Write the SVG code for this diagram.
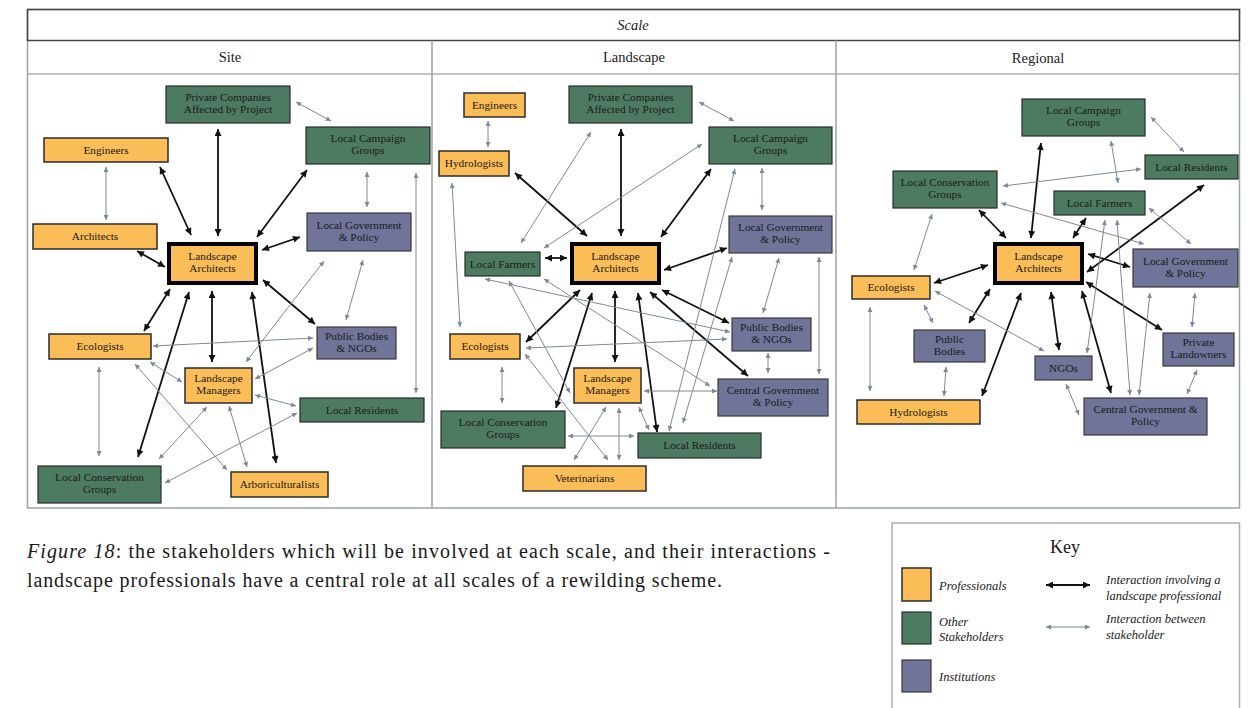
<svg xmlns="http://www.w3.org/2000/svg" width="1259" height="708" viewBox="0 0 1259 708">
<style>
text{font-family:"Liberation Serif","DejaVu Serif",serif;fill:#1a1a1a}
.n{font-size:11.3px;text-anchor:middle}
.h{font-size:14.5px;text-anchor:middle}
.pro{fill:#FBBD57;stroke:#2b2b2b;stroke-width:1.5}
.oth{fill:#4D7B62;stroke:#2b2b2b;stroke-width:1.2}
.ins{fill:#6F7498;stroke:#3a3a3a;stroke-width:1.2}
.la{fill:#FBBD57;stroke:#000;stroke-width:4}
.b{stroke:#111;stroke-width:1.8;fill:none;marker-start:url(#mb);marker-end:url(#mb)}
.g{stroke:#7D8898;stroke-width:1;fill:none;marker-start:url(#mg);marker-end:url(#mg)}
.k{font-size:12.5px;font-style:italic}
</style>
<defs>
<marker id="mb" viewBox="0 0 10 10" refX="10" refY="5" markerWidth="8" markerHeight="7" markerUnits="userSpaceOnUse" orient="auto-start-reverse"><path d="M0,0 L10,5 L0,10 z" fill="#111"/></marker>
<marker id="mg" viewBox="0 0 10 10" refX="10" refY="5" markerWidth="7" markerHeight="5" markerUnits="userSpaceOnUse" orient="auto-start-reverse"><path d="M0,0 L10,5 L0,10 z" fill="#7D8898"/></marker>
</defs>
<rect width="1259" height="708" fill="#fff"/>
<g id="table">
<rect x="27.5" y="9.5" width="1212" height="498.5" fill="none" stroke="#9AA2AC" stroke-width="1.5"/>
<rect x="27.5" y="9.5" width="1212" height="31" fill="none" stroke="#444" stroke-width="1.5"/>
<line x1="27.5" y1="74" x2="1239.5" y2="74" stroke="#A8AFB8" stroke-width="1.5"/>
<line x1="432" y1="40.5" x2="432" y2="508" stroke="#9AA2AC" stroke-width="1.5"/>
<line x1="836" y1="40.5" x2="836" y2="508" stroke="#9AA2AC" stroke-width="1.5"/>
<text x="633" y="30" class="h" font-style="italic" font-size="15.5">Scale</text>
<text x="230" y="62" class="h">Site</text>
<text x="634" y="62" class="h">Landscape</text>
<text x="1038" y="63" class="h">Regional</text>
</g>
<g id="connectors">
<!-- Site black -->
<line class="b" x1="218" y1="129" x2="218" y2="236"/>
<line class="b" x1="160" y1="167" x2="191" y2="235"/>
<line class="b" x1="307" y1="170" x2="257" y2="237"/>
<line class="b" x1="137" y1="251" x2="165" y2="267"/>
<line class="b" x1="300" y1="237" x2="262" y2="250"/>
<line class="b" x1="263" y1="280" x2="315" y2="324"/>
<line class="b" x1="170" y1="289" x2="144" y2="331"/>
<line class="b" x1="189" y1="292" x2="138" y2="457"/>
<line class="b" x1="212" y1="291" x2="212" y2="362"/>
<line class="b" x1="252" y1="292" x2="276" y2="463"/>
<!-- Site grey -->
<line class="g" x1="296" y1="102" x2="331" y2="121"/>
<line class="g" x1="106" y1="167" x2="106" y2="220"/>
<line class="g" x1="367" y1="172" x2="367" y2="207"/>
<line class="g" x1="416" y1="173" x2="416" y2="393"/>
<line class="g" x1="324" y1="261" x2="246" y2="362"/>
<line class="g" x1="363" y1="260" x2="346" y2="320"/>
<line class="g" x1="313" y1="338" x2="153" y2="346"/>
<line class="g" x1="313" y1="348" x2="255" y2="379"/>
<line class="g" x1="150" y1="362" x2="182" y2="382"/>
<line class="g" x1="135" y1="364" x2="227" y2="470"/>
<line class="g" x1="99" y1="367" x2="99" y2="456"/>
<line class="g" x1="255" y1="395" x2="296" y2="406"/>
<line class="g" x1="207" y1="407" x2="159" y2="459"/>
<line class="g" x1="229" y1="406" x2="247" y2="467"/>
<line class="g" x1="297" y1="413" x2="165" y2="483"/>
<!-- Landscape black -->
<line class="b" x1="621" y1="129" x2="621" y2="236"/>
<line class="b" x1="515" y1="173" x2="587" y2="236"/>
<line class="b" x1="711" y1="169" x2="661" y2="237"/>
<line class="b" x1="545" y1="258" x2="567" y2="258"/>
<line class="b" x1="727" y1="248" x2="664" y2="270"/>
<line class="b" x1="662" y1="290" x2="729" y2="323"/>
<line class="b" x1="650" y1="292" x2="748" y2="376"/>
<line class="b" x1="580" y1="290" x2="526" y2="342"/>
<line class="b" x1="592" y1="293" x2="556" y2="408"/>
<line class="b" x1="615" y1="291" x2="615" y2="362"/>
<line class="b" x1="638" y1="293" x2="657" y2="432"/>
<!-- Landscape grey -->
<line class="g" x1="699" y1="102" x2="734" y2="121"/>
<line class="g" x1="488" y1="121" x2="488" y2="147"/>
<line class="g" x1="591" y1="132" x2="521" y2="243"/>
<line class="g" x1="702" y1="144" x2="544" y2="248"/>
<line class="g" x1="762" y1="168" x2="762" y2="210"/>
<line class="g" x1="452" y1="183" x2="460" y2="327"/>
<line class="g" x1="779" y1="258" x2="763" y2="313"/>
<line class="g" x1="735" y1="169" x2="669" y2="431"/>
<line class="g" x1="732" y1="257" x2="683" y2="423"/>
<line class="g" x1="819" y1="257" x2="819" y2="374"/>
<line class="g" x1="768" y1="353" x2="768" y2="373"/>
<line class="g" x1="485" y1="279" x2="730" y2="332"/>
<line class="g" x1="509" y1="281" x2="570" y2="393"/>
<line class="g" x1="544" y1="279" x2="710" y2="386"/>
<line class="g" x1="526" y1="348" x2="727" y2="339"/>
<line class="g" x1="525" y1="354" x2="608" y2="460"/>
<line class="g" x1="502" y1="367" x2="502" y2="403"/>
<line class="g" x1="644" y1="391" x2="717" y2="391"/>
<line class="g" x1="606" y1="407" x2="574" y2="460"/>
<line class="g" x1="619" y1="408" x2="619" y2="460"/>
<line class="g" x1="639" y1="407" x2="649" y2="430"/>
<line class="g" x1="568" y1="436" x2="634" y2="436"/>
<!-- Regional black -->
<line class="b" x1="1041" y1="143" x2="1031" y2="238"/>
<line class="b" x1="979" y1="210" x2="1006" y2="238"/>
<line class="b" x1="1086" y1="218" x2="1073" y2="238"/>
<line class="b" x1="1204" y1="185" x2="1087" y2="272"/>
<line class="b" x1="1130" y1="267" x2="1088" y2="254"/>
<line class="b" x1="934" y1="283" x2="988" y2="265"/>
<line class="b" x1="1086" y1="282" x2="1162" y2="330"/>
<line class="b" x1="990" y1="289" x2="969" y2="323"/>
<line class="b" x1="1021" y1="293" x2="982" y2="396"/>
<line class="b" x1="1051" y1="292" x2="1059" y2="350"/>
<line class="b" x1="1082" y1="291" x2="1111" y2="393"/>
<!-- Regional grey -->
<line class="g" x1="1151" y1="117" x2="1184" y2="152"/>
<line class="g" x1="1111" y1="141" x2="1118" y2="183"/>
<line class="g" x1="1141" y1="169" x2="1003" y2="186"/>
<line class="g" x1="1001" y1="203" x2="1144" y2="244"/>
<line class="g" x1="1149" y1="208" x2="1191" y2="244"/>
<line class="g" x1="932" y1="214" x2="914" y2="270"/>
<line class="g" x1="1105" y1="220" x2="1087" y2="353"/>
<line class="g" x1="1117" y1="220" x2="1130" y2="395"/>
<line class="g" x1="1150" y1="293" x2="1139" y2="395"/>
<line class="g" x1="1195" y1="293" x2="1192" y2="327"/>
<line class="g" x1="1197" y1="370" x2="1187" y2="394"/>
<line class="g" x1="924" y1="305" x2="933" y2="323"/>
<line class="g" x1="935" y1="291" x2="1044" y2="351"/>
<line class="g" x1="870" y1="307" x2="870" y2="391"/>
<line class="g" x1="946" y1="367" x2="944" y2="396"/>
<line class="g" x1="1066" y1="384" x2="1079" y2="415"/>
</g>
<!-- Site nodes -->
<g id="s-private"><rect class="oth" x="166" y="86" width="124" height="37"/><text class="n" x="228" y="101">Private Companies</text><text class="n" x="228" y="113">Affected by Project</text></g>
<g id="s-engineers"><rect class="pro" x="44" y="138" width="124" height="24"/><text class="n" x="106" y="153.5">Engineers</text></g>
<g id="s-campaign"><rect class="oth" x="306" y="127" width="124" height="37"/><text class="n" x="368" y="142">Local Campaign</text><text class="n" x="368" y="154">Groups</text></g>
<g id="s-architects"><rect class="pro" x="33" y="224" width="124" height="25"/><text class="n" x="95" y="240">Architects</text></g>
<g id="s-la"><rect class="la" x="169" y="244" width="87" height="39"/><text class="n" x="212.5" y="260">Landscape</text><text class="n" x="212.5" y="272">Architects</text></g>
<g id="s-lgp"><rect class="ins" x="307" y="213" width="104" height="38"/><text class="n" x="359" y="228.5">Local Government</text><text class="n" x="359" y="240.5">&amp; Policy</text></g>
<g id="s-ecologists"><rect class="pro" x="49" y="334" width="102" height="25"/><text class="n" x="100" y="350">Ecologists</text></g>
<g id="s-public"><rect class="ins" x="317" y="327" width="79" height="32"/><text class="n" x="356.5" y="339.5">Public Bodies</text><text class="n" x="356.5" y="351.5">&amp; NGOs</text></g>
<g id="s-managers"><rect class="pro" x="185" y="368" width="67" height="35"/><text class="n" x="218.5" y="382">Landscape</text><text class="n" x="218.5" y="394">Managers</text></g>
<g id="s-residents"><rect class="oth" x="300" y="398" width="124" height="24"/><text class="n" x="362" y="413.5">Local Residents</text></g>
<g id="s-conservation"><rect class="oth" x="38" y="466" width="123" height="37"/><text class="n" x="99.5" y="481">Local Conservation</text><text class="n" x="99.5" y="493">Groups</text></g>
<g id="s-arbor"><rect class="pro" x="231" y="472" width="97" height="25"/><text class="n" x="279.5" y="488">Arboriculturalists</text></g>
<!-- Landscape nodes -->
<g id="l-engineers"><rect class="pro" x="464" y="93" width="61" height="24"/><text class="n" x="494.5" y="108.5">Engineers</text></g>
<g id="l-private"><rect class="oth" x="569" y="86" width="123" height="37"/><text class="n" x="630.5" y="101">Private Companies</text><text class="n" x="630.5" y="113">Affected by Project</text></g>
<g id="l-hydro"><rect class="pro" x="439" y="151" width="70" height="25"/><text class="n" x="474" y="167">Hydrologists</text></g>
<g id="l-campaign"><rect class="oth" x="709" y="127" width="123" height="37"/><text class="n" x="770.5" y="142">Local Campaign</text><text class="n" x="770.5" y="154">Groups</text></g>
<g id="l-farmers"><rect class="oth" x="465" y="252" width="75" height="24"/><text class="n" x="502.5" y="267.5">Local Farmers</text></g>
<g id="l-la"><rect class="la" x="572" y="244" width="87" height="39"/><text class="n" x="615.5" y="260">Landscape</text><text class="n" x="615.5" y="272">Architects</text></g>
<g id="l-lgp"><rect class="ins" x="729" y="216" width="103" height="37"/><text class="n" x="780.5" y="231">Local Government</text><text class="n" x="780.5" y="243">&amp; Policy</text></g>
<g id="l-ecologists"><rect class="pro" x="450" y="334" width="70" height="25"/><text class="n" x="485" y="350">Ecologists</text></g>
<g id="l-public"><rect class="ins" x="732" y="318" width="79" height="33"/><text class="n" x="771.5" y="331">Public Bodies</text><text class="n" x="771.5" y="343">&amp; NGOs</text></g>
<g id="l-managers"><rect class="pro" x="574" y="368" width="67" height="35"/><text class="n" x="607.5" y="382">Landscape</text><text class="n" x="607.5" y="394">Managers</text></g>
<g id="l-central"><rect class="ins" x="718" y="379" width="110" height="37"/><text class="n" x="773" y="394">Central Government</text><text class="n" x="773" y="406">&amp; Policy</text></g>
<g id="l-conservation"><rect class="oth" x="441" y="411" width="124" height="37"/><text class="n" x="503" y="426">Local Conservation</text><text class="n" x="503" y="438">Groups</text></g>
<g id="l-residents"><rect class="oth" x="638" y="433" width="123" height="25"/><text class="n" x="699.5" y="449">Local Residents</text></g>
<g id="l-vets"><rect class="pro" x="523" y="466" width="123" height="25"/><text class="n" x="584.5" y="482">Veterinarians</text></g>
<!-- Regional nodes -->
<g id="r-campaign"><rect class="oth" x="1022" y="99" width="123" height="37"/><text class="n" x="1083.5" y="114">Local Campaign</text><text class="n" x="1083.5" y="126">Groups</text></g>
<g id="r-residents"><rect class="oth" x="1145" y="155" width="93" height="24"/><text class="n" x="1191.5" y="170.5">Local Residents</text></g>
<g id="r-conservation"><rect class="oth" x="893" y="171" width="104" height="37"/><text class="n" x="945" y="186">Local Conservation</text><text class="n" x="945" y="198">Groups</text></g>
<g id="r-farmers"><rect class="oth" x="1054" y="191" width="91" height="24"/><text class="n" x="1099.5" y="206.5">Local Farmers</text></g>
<g id="r-la"><rect class="la" x="995" y="244" width="87" height="39"/><text class="n" x="1038.5" y="260">Landscape</text><text class="n" x="1038.5" y="272">Architects</text></g>
<g id="r-lgp"><rect class="ins" x="1133" y="249" width="105" height="38"/><text class="n" x="1185.5" y="264.5">Local Government</text><text class="n" x="1185.5" y="276.5">&amp; Policy</text></g>
<g id="r-ecologists"><rect class="pro" x="852" y="276" width="78" height="23"/><text class="n" x="891" y="291">Ecologists</text></g>
<g id="r-public"><rect class="ins" x="914" y="330" width="71" height="32"/><text class="n" x="949.5" y="342.5">Public</text><text class="n" x="949.5" y="354.5">Bodies</text></g>
<g id="r-ngos"><rect class="ins" x="1035" y="356" width="57" height="24"/><text class="n" x="1063.5" y="371.5">NGOs</text></g>
<g id="r-landowners"><rect class="ins" x="1163" y="333" width="71" height="33"/><text class="n" x="1198.5" y="346">Private</text><text class="n" x="1198.5" y="358">Landowners</text></g>
<g id="r-hydro"><rect class="pro" x="857" y="400" width="123" height="24"/><text class="n" x="918.5" y="415.5">Hydrologists</text></g>
<g id="r-central"><rect class="ins" x="1084" y="398" width="123" height="37"/><text class="n" x="1145.5" y="413">Central Government &amp;</text><text class="n" x="1145.5" y="425">Policy</text></g>
<!-- Caption -->
<g id="caption">
<text x="27" y="558" font-size="20" textLength="803" lengthAdjust="spacing"><tspan font-style="italic">Figure 18</tspan>: the stakeholders which will be involved at each scale, and their interactions -</text>
<text x="27" y="587" font-size="20" textLength="695" lengthAdjust="spacing">landscape professionals have a central role at all scales of a rewilding scheme.</text>
</g>
<!-- Key -->
<g id="key">
<rect x="892" y="523" width="347.5" height="190" fill="#fff" stroke="#A8AFB8" stroke-width="1.5"/>
<text x="1065" y="553" font-size="18" text-anchor="middle">Key</text>
<rect class="pro" x="902" y="568" width="29" height="33"/>
<rect class="oth" x="902" y="612" width="29" height="32"/>
<rect class="ins" x="902" y="660" width="29" height="32"/>
<text class="k" x="939" y="590">Professionals</text>
<text class="k" x="939" y="626">Other</text>
<text class="k" x="939" y="641">Stakeholders</text>
<text class="k" x="939" y="681">Institutions</text>
<line class="b" x1="1046" y1="585" x2="1090" y2="585"/>
<line class="g" x1="1046" y1="627" x2="1090" y2="627"/>
<text class="k" x="1106" y="584">Interaction involving a</text>
<text class="k" x="1106" y="600">landscape professional</text>
<text class="k" x="1106" y="623">Interaction between</text>
<text class="k" x="1106" y="639">stakeholder</text>
</g>
</svg>
